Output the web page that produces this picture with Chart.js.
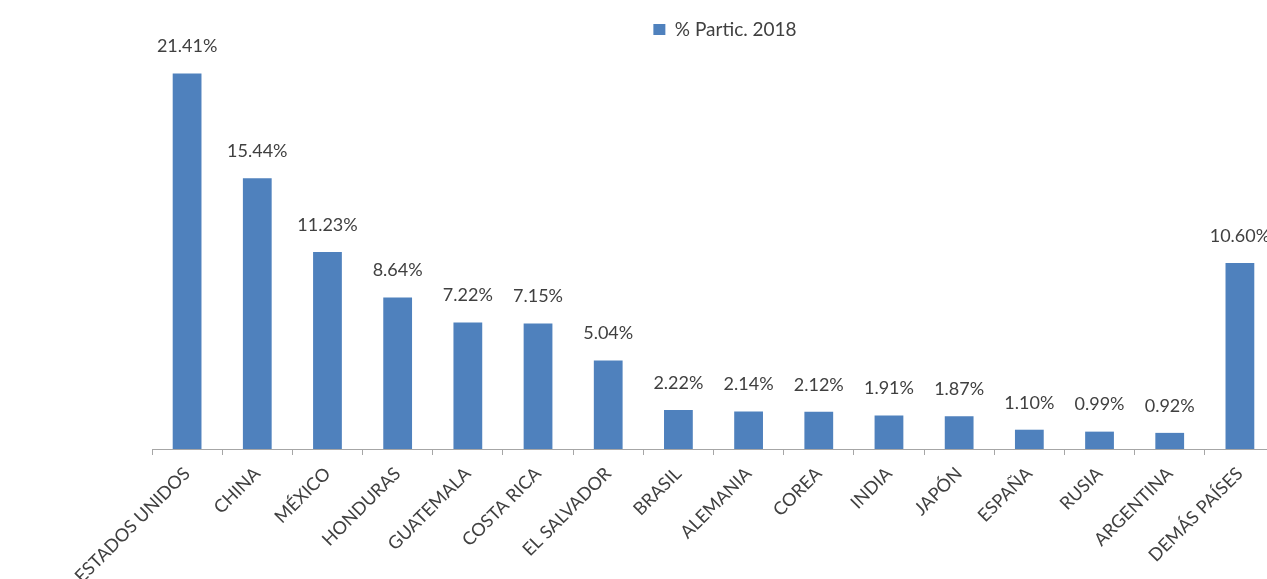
<!DOCTYPE html>
<html>
<head>
<meta charset="utf-8">
<script src="https://cdn.jsdelivr.net/npm/chart.js@4.4.1/dist/chart.umd.min.js"></script>
<style>
    html, body { margin: 0; padding: 0; background: #fff; overflow: hidden; }
    #wrap { width: 1450px; height: 579px; }
</style>
</head>
<body>
<div id="wrap"><canvas id="partChart" width="1450" height="579"></canvas></div>
<script>
const paises = ["ESTADOS UNIDOS", "CHINA", "MÉXICO", "HONDURAS", "GUATEMALA", "COSTA RICA",
    "EL SALVADOR", "BRASIL", "ALEMANIA", "COREA", "INDIA", "JAPÓN", "ESPAÑA", "RUSIA",
    "ARGENTINA", "DEMÁS PAÍSES"];
const participacion = [21.41, 15.44, 11.23, 8.64, 7.22, 7.15, 5.04, 2.22, 2.14, 2.12,
    1.91, 1.87, 1.10, 0.99, 0.92, 10.60];
const serieNombre = "% Partic. 2018";

const FONT = "Lato, 'Open Sans', sans-serif";

// etiquetas de valor encima de cada barra
const valueLabels = {
    id: "valueLabels",
    afterDatasetsDraw(chart) {
        const ctx = chart.ctx;
        const meta = chart.getDatasetMeta(0);
        ctx.save();
        ctx.font = "18px " + FONT;
        ctx.fillStyle = "#404040";
        ctx.textAlign = "center";
        ctx.textBaseline = "middle";
        meta.data.forEach((bar, i) => {
            ctx.fillText(participacion[i].toFixed(2) + "%", bar.x, bar.y - 27);
        });
        ctx.restore();
    }
};

new Chart(document.getElementById("partChart").getContext("2d"), {
    type: "bar",
    data: {
        labels: paises,
        datasets: [{
            label: serieNombre,
            data: participacion,
            backgroundColor: "#4f81bd",
            barPercentage: 0.41,
            categoryPercentage: 1.0
        }]
    },
    options: {
        responsive: false,
        animation: false,
        layout: { padding: { top: 10, left: 0, right: 0, bottom: 0 } },
        plugins: {
            legend: {
                position: "top",
                labels: {
                    boxWidth: 12,
                    boxHeight: 11,
                    padding: 10,
                    color: "#404040",
                    font: { family: FONT, size: 19 }
                }
            },
            tooltip: { enabled: false }
        },
        scales: {
            x: {
                grid: {
                    display: true,
                    drawOnChartArea: false,
                    offset: true,
                    tickLength: 6,
                    color: "#a6a6a6"
                },
                border: { display: true, color: "#a6a6a6", width: 1 },
                ticks: {
                    autoSkip: false,
                    minRotation: 45,
                    maxRotation: 45,
                    padding: 8,
                    color: "#404040",
                    font: { family: FONT, size: 18 }
                },
                afterFit(scale) { scale.height = 130; }
            },
            y: {
                min: 0,
                max: 22.81,
                display: true,
                grid: { display: false },
                border: { display: false },
                ticks: { display: false },
                afterFit(scale) { scale.width = 152; }
            },
            y2: {
                position: "right",
                display: true,
                grid: { display: false },
                border: { display: false },
                ticks: { display: false },
                afterFit(scale) { scale.width = 175; }
            }
        }
    },
    plugins: [valueLabels]
});
</script>
</body>
</html>
